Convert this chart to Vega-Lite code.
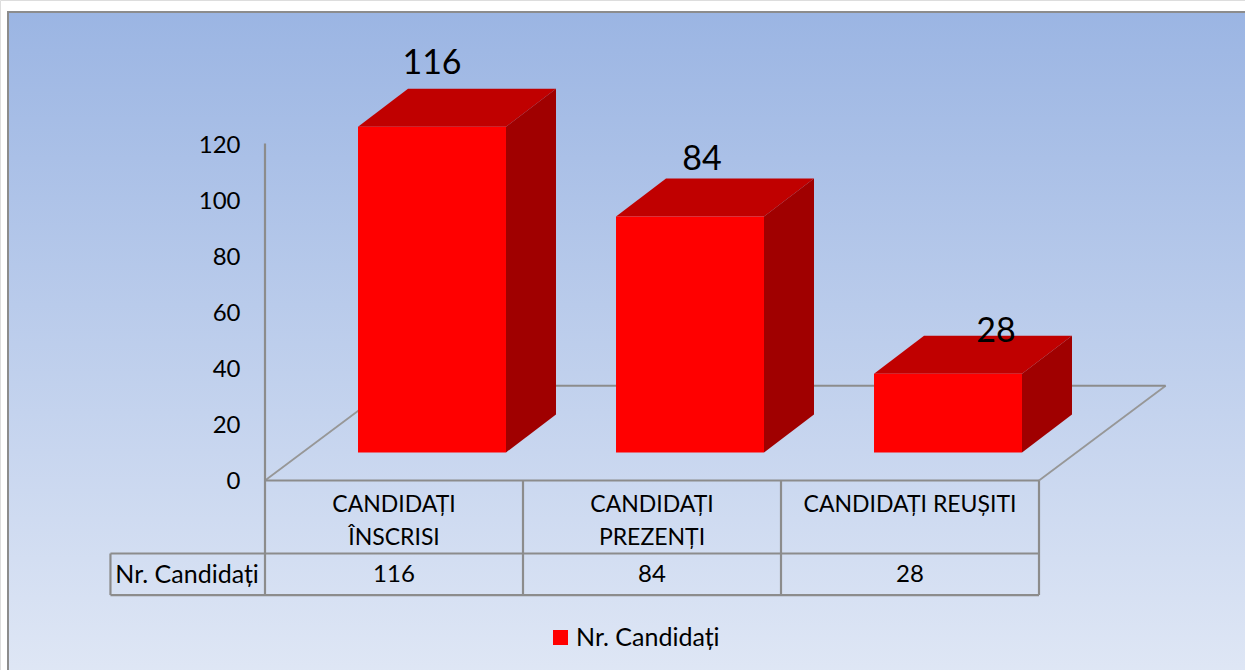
{
"$schema":"https://vega.github.io/schema/vega-lite/v6.json",
"width":1245,"height":670,"padding":0,"autosize":{"type":"none"},"background":"white",
"config":{"axisY":{"domain":false,"ticks":false,"grid":false,"labelPadding":25,"labelOffset":1.5,"labelFont":"Lato","labelFontSize":24,"labelColor":"#000000"}},
"datasets":{"frame":[{"name":"frame"}]},
"data":{"values":[
{"category":"CANDIDAȚI\nÎNSCRISI","series":"Nr. Candidați","value":116},
{"category":"CANDIDAȚI\nPREZENȚI","series":"Nr. Candidați","value":84},
{"category":"CANDIDAȚI REUȘITI","series":"Nr. Candidați","value":28}
]},
"transform":[
{"window":[{"op":"row_number","as":"rn"}]},
{"calculate":"datum.rn-1","as":"i"},
{"calculate":"datum.i+0.3605","as":"left"},
{"calculate":"datum.i+0.9341","as":"right"},
{"calculate":"datum.value+10","as":"top"},
{"calculate":"datum.i+0.5","as":"mid"},
{"calculate":"datum.i+1","as":"cellEnd"}
],
"layer":[
{"data":{"name":"frame"},"mark":{"type":"rect","stroke":"#8c8c8c","strokeWidth":2,"fill":{"x1":0,"y1":0,"x2":0,"y2":1,"gradient":"linear","stops":[{"offset":0,"color":"#9bb5e3"},{"offset":1,"color":"#e2e9f6"}]}},
 "encoding":{
 "x":{"datum":-0.9961,"type":"quantitative","scale":{"domain":[-1.02713,3.79845],"range":[0,1245],"nice":false,"zero":false},"axis":null},
 "x2":{"datum":3.9},
 "y":{"datum":166.85,"type":"quantitative","scale":{"domain":[-67.49,171.12],"range":[670,0],"nice":false,"zero":false},
   "axis":{"title":null,"values":[0,20,40,60,80,100,120],"offset":-265,"zindex":1}},
 "y2":{"datum":-80}}},
{"data":{"name":"frame"},"mark":{"type":"rule","stroke":"#979797","strokeWidth":1.8},"encoding":{"x":{"datum":0,"type":"quantitative","axis":null},"x2":{"datum":0.491},"y":{"datum":0,"type":"quantitative","axis":{"title":null,"values":[0,20,40,60,80,100,120],"offset":-265,"zindex":1}},"y2":{"datum":33.76}}},
{"data":{"name":"frame"},"mark":{"type":"rule","stroke":"#979797","strokeWidth":1.8},"encoding":{"x":{"datum":3,"type":"quantitative","axis":null},"x2":{"datum":3.491},"y":{"datum":0,"type":"quantitative","axis":{"title":null,"values":[0,20,40,60,80,100,120],"offset":-265,"zindex":1}},"y2":{"datum":33.76}}},
{"data":{"name":"frame"},"mark":{"type":"rule","stroke":"#8c8c8c","strokeWidth":2},"encoding":{"x":{"datum":0.491,"type":"quantitative","axis":null},"x2":{"datum":3.491},"y":{"datum":33.76,"type":"quantitative","axis":{"title":null,"values":[0,20,40,60,80,100,120],"offset":-265,"zindex":1}}}},
{"data":{"name":"frame"},"mark":{"type":"rule","stroke":"#8c8c8c","strokeWidth":2.2},"encoding":{"x":{"datum":0,"type":"quantitative","axis":null},"y":{"datum":120,"type":"quantitative","axis":{"title":null,"values":[0,20,40,60,80,100,120],"offset":-265,"zindex":1}},"y2":{"datum":-40.8}}},
{"data":{"name":"frame"},"mark":{"type":"rule","stroke":"#8c8c8c","strokeWidth":2.2},"encoding":{"x":{"datum":-0.599,"type":"quantitative","axis":null},"y":{"datum":-26,"type":"quantitative","axis":{"title":null,"values":[0,20,40,60,80,100,120],"offset":-265,"zindex":1}},"y2":{"datum":-40.8}}},
{"data":{"name":"frame"},"mark":{"type":"rule","stroke":"#8c8c8c","strokeWidth":2.2},"encoding":{"x":{"datum":0,"type":"quantitative","axis":null},"x2":{"datum":3},"y":{"datum":0,"type":"quantitative","axis":{"title":null,"values":[0,20,40,60,80,100,120],"offset":-265,"zindex":1}}}},
{"data":{"name":"frame"},"mark":{"type":"rule","stroke":"#8c8c8c","strokeWidth":2.2},"encoding":{"x":{"datum":-0.599,"type":"quantitative","axis":null},"x2":{"datum":3},"y":{"datum":-26,"type":"quantitative","axis":{"title":null,"values":[0,20,40,60,80,100,120],"offset":-265,"zindex":1}}}},
{"data":{"name":"frame"},"mark":{"type":"rule","stroke":"#8c8c8c","strokeWidth":2.2},"encoding":{"x":{"datum":-0.599,"type":"quantitative","axis":null},"x2":{"datum":3},"y":{"datum":-40.8,"type":"quantitative","axis":{"title":null,"values":[0,20,40,60,80,100,120],"offset":-265,"zindex":1}}}},
{"mark":{"type":"rule","stroke":"#8c8c8c","strokeWidth":2.2},"encoding":{"x":{"field":"cellEnd","type":"quantitative","axis":null},"y":{"datum":0,"type":"quantitative","axis":{"title":null,"values":[0,20,40,60,80,100,120],"offset":-265,"zindex":1}},"y2":{"datum":-40.8}}},
{"transform":[{"calculate":"[0,1,2,3]","as":"t"},{"flatten":["t"]},
 {"calculate":"[datum.left,datum.left+0.1938,datum.right,datum.right+0.1938][datum.t]","as":"vx"},
 {"calculate":"datum.t==0?datum.top:datum.top+13.53","as":"vy"},
 {"calculate":"datum.t==3?datum.top+13.53:datum.top","as":"vy2"}],
 "mark":{"type":"area","color":"#c00000","interpolate":"linear"},
 "encoding":{"x":{"field":"vx","type":"quantitative","axis":null},"y":{"field":"vy","type":"quantitative","axis":{"title":null,"values":[0,20,40,60,80,100,120],"offset":-265,"zindex":1}},"y2":{"field":"vy2"},"detail":{"field":"i","type":"nominal"}}},
{"transform":[{"calculate":"[0,1]","as":"t"},{"flatten":["t"]},
 {"calculate":"datum.right+0.1938*datum.t","as":"vx"},
 {"calculate":"datum.top+13.53*datum.t","as":"vy"},
 {"calculate":"10+13.53*datum.t","as":"vy2"}],
 "mark":{"type":"area","color":"#a00000","interpolate":"linear"},
 "encoding":{"x":{"field":"vx","type":"quantitative","axis":null},"y":{"field":"vy","type":"quantitative","axis":{"title":null,"values":[0,20,40,60,80,100,120],"offset":-265,"zindex":1}},"y2":{"field":"vy2"},"detail":{"field":"i","type":"nominal"}}},
{"mark":{"type":"rect"},
 "encoding":{"x":{"field":"left","type":"quantitative","axis":null},"x2":{"field":"right"},"y":{"field":"top","type":"quantitative","axis":{"title":null,"values":[0,20,40,60,80,100,120],"offset":-265,"zindex":1}},"y2":{"datum":10},
 "color":{"field":"series","type":"nominal","scale":{"range":["#ff0000"]},"legend":{"title":null,"orient":"none","legendX":548,"legendY":625,"padding":0,"symbolType":"square","symbolSize":225,"symbolStrokeWidth":0,"labelFont":"Lato","labelFontSize":25,"labelColor":"#000000","labelOffset":3}}}},
{"transform":[{"calculate":"[0.6473,1.6938,2.8333][datum.i]","as":"lx"},{"calculate":"[148.3,114.2,52.9][datum.i]","as":"ly"}],
 "mark":{"type":"text","font":"Lato","fontSize":34,"color":"#000000","align":"center","baseline":"middle"},
 "encoding":{"x":{"field":"lx","type":"quantitative","axis":null},"y":{"field":"ly","type":"quantitative","axis":{"title":null,"values":[0,20,40,60,80,100,120],"offset":-265,"zindex":1}},"text":{"field":"value","type":"quantitative"}}},
{"mark":{"type":"text","font":"Lato","fontSize":23,"color":"#000000","align":"center","baseline":"top","lineBreak":"\n","lineHeight":33},
 "encoding":{"x":{"field":"mid","type":"quantitative","axis":null},"y":{"datum":-4.8,"type":"quantitative","axis":{"title":null,"values":[0,20,40,60,80,100,120],"offset":-265,"zindex":1}},"text":{"field":"category","type":"nominal"}}},
{"mark":{"type":"text","font":"Lato","fontSize":24,"color":"#000000","align":"center","baseline":"middle"},
 "encoding":{"x":{"field":"mid","type":"quantitative","axis":null},"y":{"datum":-33.5,"type":"quantitative","axis":{"title":null,"values":[0,20,40,60,80,100,120],"offset":-265,"zindex":1}},"text":{"field":"value","type":"quantitative"}}},
{"transform":[{"filter":"datum.i==0"}],"mark":{"type":"text","font":"Lato","fontSize":25,"color":"#000000","align":"center","baseline":"middle"},
 "encoding":{"x":{"datum":-0.302,"type":"quantitative","axis":null},"y":{"datum":-33.5,"type":"quantitative","axis":{"title":null,"values":[0,20,40,60,80,100,120],"offset":-265,"zindex":1}},"text":{"field":"series","type":"nominal"}}}
]
}
